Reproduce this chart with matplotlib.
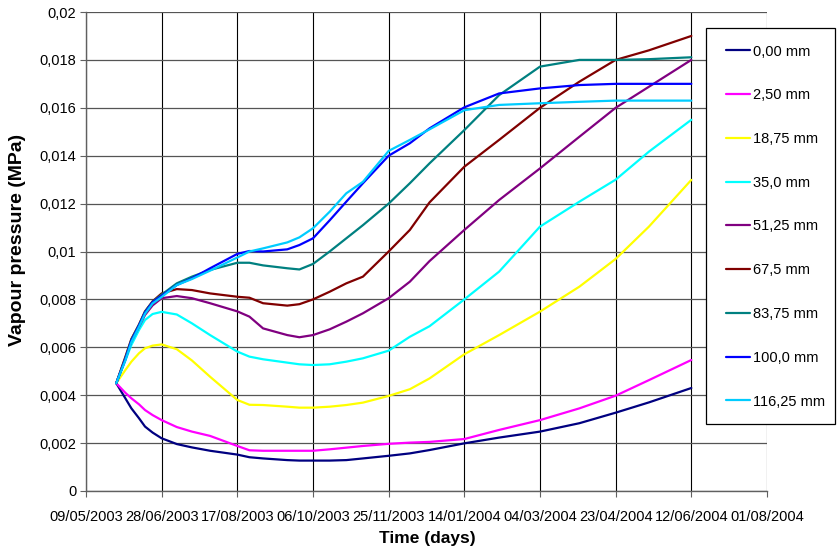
import matplotlib
matplotlib.use("Agg")
import matplotlib.pyplot as plt
import matplotlib.dates as mdates
from matplotlib.ticker import FuncFormatter, FixedLocator
from matplotlib.patches import Rectangle
from datetime import datetime, timedelta
import numpy as np

plt.rcParams['font.family'] = ['Liberation Sans', 'DejaVu Sans']

start = datetime(2003, 5, 9)
days = [20, 26, 30, 35, 39, 44, 50, 60, 70, 82, 100, 108, 117, 133, 141, 150, 161, 172,
        183, 200, 214, 227, 250, 273, 300, 326, 350, 372, 400]

labels = ["0,00 mm", "2,50 mm", "18,75 mm", "35,0 mm", "51,25 mm",
          "67,5 mm", "83,75 mm", "100,0 mm", "116,25 mm"]
colors = ["#000080", "#FF00FF", "#FFFF00", "#00FFFF", "#800080",
          "#800000", "#008080", "#0000FF", "#00CCFF"]

# values in 1e-3 MPa
s_0_00 = [4.5, 3.87, 3.45, 3.04, 2.69, 2.44, 2.20, 1.96, 1.82, 1.68, 1.52, 1.41, 1.36, 1.29, 1.27,
          1.27, 1.27, 1.29, 1.36, 1.47, 1.57, 1.71, 1.99, 2.23, 2.48, 2.83, 3.27, 3.70, 4.30]
s_2_50 = [4.5, 4.10, 3.87, 3.62, 3.38, 3.17, 2.96, 2.67, 2.48, 2.30, 1.88, 1.70, 1.68, 1.68, 1.68,
          1.68, 1.74, 1.81, 1.88, 1.97, 2.02, 2.05, 2.17, 2.55, 2.96, 3.45, 3.98, 4.63, 5.47]
s_18_75 = [4.5, 5.05, 5.40, 5.75, 5.96, 6.07, 6.12, 5.92, 5.45, 4.77, 3.80, 3.60, 3.59, 3.52, 3.48,
           3.48, 3.52, 3.59, 3.69, 3.97, 4.25, 4.70, 5.71, 6.51, 7.49, 8.53, 9.69, 11.04, 12.99]
s_35_0 = [4.5, 5.45, 6.10, 6.72, 7.14, 7.39, 7.48, 7.37, 7.00, 6.51, 5.82, 5.61, 5.50, 5.36, 5.29,
          5.26, 5.29, 5.40, 5.54, 5.86, 6.44, 6.88, 8.00, 9.16, 11.04, 12.08, 13.00, 14.17, 15.50]
s_51_25 = [4.5, 5.50, 6.25, 6.85, 7.35, 7.75, 8.05, 8.14, 8.05, 7.84, 7.50, 7.28, 6.79, 6.51, 6.42,
           6.51, 6.75, 7.07, 7.42, 8.05, 8.74, 9.60, 10.90, 12.15, 13.47, 14.79, 16.00, 16.88, 18.00]
s_67_5 = [4.5, 5.60, 6.35, 6.95, 7.50, 7.92, 8.25, 8.43, 8.39, 8.25, 8.11, 8.07, 7.84, 7.74, 7.80,
          8.00, 8.32, 8.67, 8.95, 10.00, 10.90, 12.05, 13.54, 14.66, 16.00, 17.09, 18.00, 18.40, 19.00]
s_83_75 = [4.5, 5.55, 6.32, 6.93, 7.49, 7.90, 8.20, 8.67, 8.95, 9.23, 9.53, 9.53, 9.42, 9.30, 9.25,
           9.48, 10.00, 10.55, 11.10, 12.00, 12.85, 13.68, 15.07, 16.53, 17.72, 18.00, 18.00, 18.03, 18.11]
s_100_0 = [4.5, 5.50, 6.28, 6.90, 7.45, 7.88, 8.15, 8.60, 8.88, 9.30, 9.90, 10.02, 10.00, 10.09, 10.27,
           10.55, 11.30, 12.08, 12.85, 14.00, 14.52, 15.14, 16.02, 16.60, 16.81, 16.95, 17.00, 17.00, 17.00]
s_116_25 = [4.5, 5.45, 6.22, 6.85, 7.40, 7.83, 8.10, 8.60, 8.85, 9.20, 9.75, 10.00, 10.13, 10.38, 10.59,
            10.97, 11.66, 12.43, 12.91, 14.20, 14.66, 15.10, 15.90, 16.12, 16.19, 16.25, 16.30, 16.30, 16.30]

series = [s_0_00, s_2_50, s_18_75, s_35_0, s_51_25, s_67_5, s_83_75, s_100_0, s_116_25]

dates = [start + timedelta(days=d) for d in days]

W, H = 839, 552
fig = plt.figure(figsize=(W / 100, H / 100), dpi=100)
ax = fig.add_axes([86 / W, 61 / H, (767 - 86) / W, (491 - 12) / H])

handles = []
for vals, lab, col in zip(series, labels, colors):
    ln, = ax.plot(dates, np.array(vals) * 1e-3, color=col, lw=1.6, label=lab,
                  solid_joinstyle='round', solid_capstyle='round', zorder=3)
    handles.append(ln)

tick_dates = [start + timedelta(days=50 * i) for i in range(10)]
ax.set_xlim(mdates.date2num(tick_dates[0]), mdates.date2num(tick_dates[-1]))
ax.xaxis.set_major_locator(FixedLocator(mdates.date2num(tick_dates)))
ax.xaxis.set_major_formatter(FuncFormatter(lambda v, p: mdates.num2date(v).strftime('%d/%m/%Y')))

ax.set_ylim(0, 0.02)
yt = [i * 0.002 for i in range(11)]
ax.yaxis.set_major_locator(FixedLocator(yt))
ax.yaxis.set_major_formatter(FuncFormatter(lambda v, p: ('%g' % round(v, 4)).replace('.', ',')))

ax.grid(True, axis='x', color='black', lw=0.8, zorder=1)
ax.grid(True, axis='y', color='#555555', lw=0.9, zorder=1)
for s in ['top', 'right']:
    ax.spines[s].set_visible(False)
for s in ['left', 'bottom']:
    ax.spines[s].set_color('#606060')
    ax.spines[s].set_linewidth(1.0)

ax.tick_params(axis='y', direction='out', length=4, color='#606060', labelsize=10.5, pad=3)
ax.tick_params(axis='x', direction='out', length=4, color='#606060', labelsize=10.5, pad=10)
for t in ax.get_xticklabels():
    t.set_family(['Liberation Sans Narrow', 'Liberation Sans', 'DejaVu Sans'])

fig.text(427 / W, 1 - 539 / H, 'Time (days)', fontsize=12.5, fontweight='bold',
         ha='center', va='center')
fig.text(18 / W, 1 - 240 / H, 'Vapour pressure (MPa)', fontsize=14, fontweight='bold',
         ha='center', va='center', rotation=90)

# legend box
box = Rectangle((706 / W, 1 - 424 / H), (835 - 706) / W, (424 - 28) / H,
                transform=fig.transFigure, facecolor='white', edgecolor='black',
                lw=0.9, zorder=4)
fig.patches.append(box)

leg = fig.legend(handles, labels, loc='upper left', bbox_to_anchor=(726 / W, 1 - 44.5 / H),
                 frameon=False, fontsize=10.5, labelspacing=2.04, handlelength=1.65,
                 handletextpad=0.22, borderpad=0, borderaxespad=0)
leg.set_zorder(5)
for l in leg.get_lines():
    l.set_linewidth(1.6)

fig.savefig('out.png', dpi=100)
